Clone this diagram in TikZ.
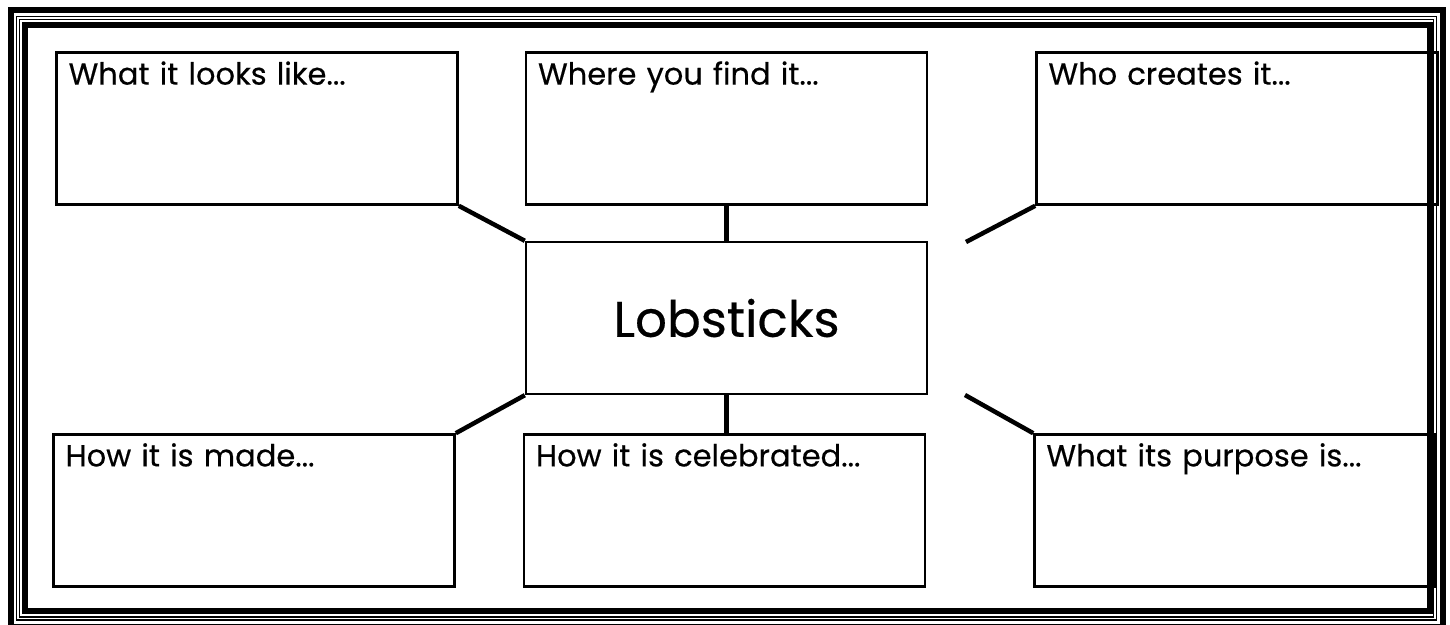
\documentclass[tikz,border=0pt]{standalone}
\usepackage{fontspec}
\setmainfont{Poppins}[FakeBold=0.4]
\usetikzlibrary{positioning}

\begin{document}
\begin{tikzpicture}[
  x=1pt, y=-1pt,
  box/.style={draw, line width=2.4pt, text width=377pt, text height=20pt, text depth=108pt, inner xsep=12pt, inner ysep=12pt, align=left, font=\fontsize{30.5}{34}\selectfont},
  hub/.style={draw, line width=2.4pt, minimum width=401pt, minimum height=152pt, inner sep=0pt, font=\fontsize{50}{60}\selectfont},
  spoke/.style={line width=4.5pt},
  frame/.style={line width=6pt},
  thin/.style={line width=1.4pt}
]
  \useasboundingbox (0,0) rectangle (1450,624);

  % page border
  \draw[frame] (10.5,10) rectangle (1443,627);
  \draw[thin] (16.5,16.5) rectangle (1436.5,620);
  \draw[thin] (19.5,19.5) rectangle (1433.5,617);
  \draw[frame] (25,25) rectangle (1429.5,611);

  \node[hub] (centre) at (726.5,318) {Lobsticks};

  \node[box, above=35pt of centre] (where) {Where you find it...};
  \node[box, left=66pt of where] (looks) {What it looks like...};
  \node[box, right=107pt of where] (creates) {Who creates it...};

  \node[box, below=38pt of centre, xshift=-2pt] (celebrated) {How it is celebrated...};
  \node[box, left=67pt of celebrated] (made) {How it is made...};
  \node[box, right=107pt of celebrated] (purpose) {What its purpose is...};

  \coordinate (topfree) at (966,242);
  \coordinate (botfree) at (965,395);

  \draw[spoke] (looks.south east) -- (centre.north west);
  \draw[spoke] (where) -- (centre);
  \draw[spoke] (creates.south west) -- (topfree);
  \draw[spoke] (made.north east) -- (centre.south west);
  \draw[spoke] (celebrated.north -| centre) -- (centre);
  \draw[spoke] (purpose.north west) -- (botfree);
\end{tikzpicture}
\end{document}
